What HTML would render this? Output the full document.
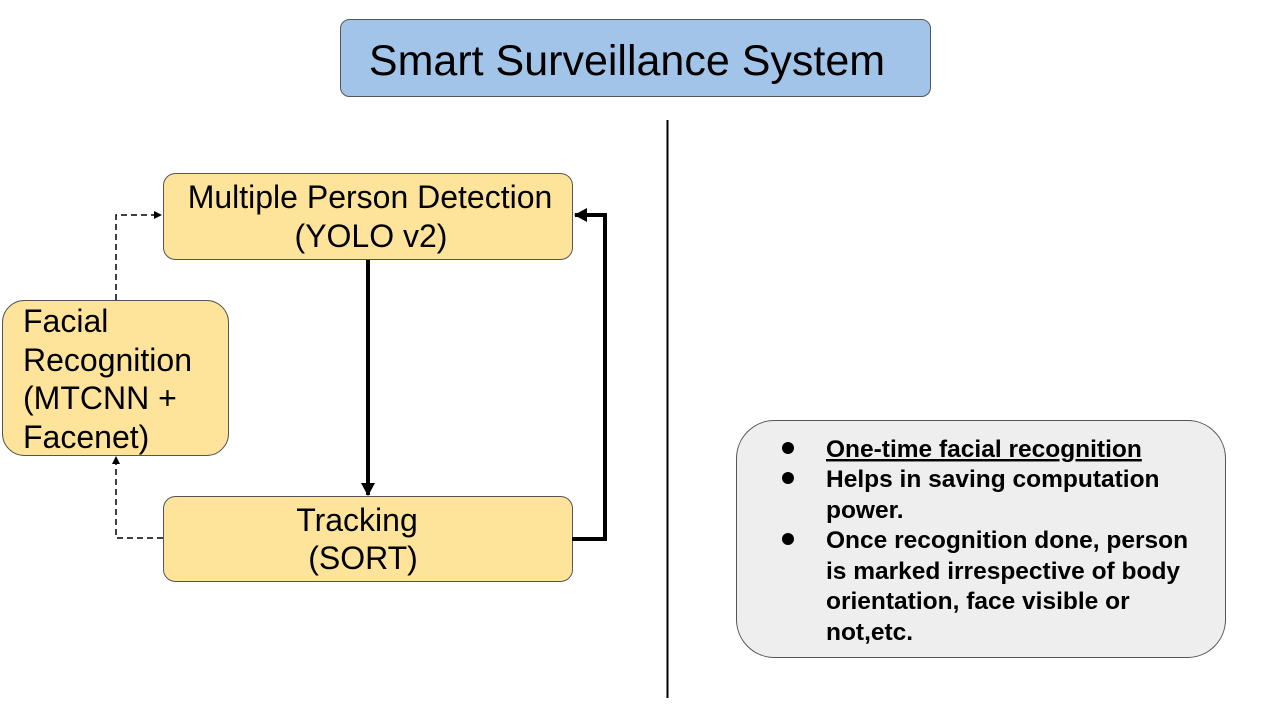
<!DOCTYPE html>
<html><head><style>
body{margin:0;width:1270px;height:714px;background:#fff;overflow:hidden;font-family:"Liberation Sans",sans-serif}
</style></head><body>
<svg width="1270" height="714" xmlns="http://www.w3.org/2000/svg" font-family="Liberation Sans, sans-serif">
<defs>
<marker id="a" markerWidth="8" markerHeight="8" refX="7" refY="4" orient="auto" markerUnits="userSpaceOnUse"><path d="M0,0 L8,4 L0,8z" fill="#000"/></marker>
<marker id="b" markerWidth="14" markerHeight="14" refX="12" refY="7" orient="auto" markerUnits="userSpaceOnUse"><path d="M0,0 L13,7 L0,14z" fill="#000"/></marker>
</defs>
<rect x="340.5" y="19.5" width="590" height="77" rx="9" fill="#a2c4e8" stroke="#555"/>
<text x="627" y="75" font-size="43" text-anchor="middle">Smart Surveillance System</text>
<line x1="667.5" y1="120" x2="667.5" y2="698" stroke="#000" stroke-width="2"/>
<rect x="163.5" y="173.5" width="409" height="86" rx="12" fill="#fee49a" stroke="#555"/>
<text x="370" y="208" font-size="32" text-anchor="middle">Multiple Person Detection</text>
<text x="371" y="247" font-size="32" text-anchor="middle">(YOLO v2)</text>
<rect x="2.5" y="300.5" width="226" height="155" rx="22" fill="#fee49a" stroke="#555"/>
<text font-size="32"><tspan x="23" y="332">Facial</tspan><tspan x="23" y="371">Recognition</tspan><tspan x="23" y="409">(MTCNN +</tspan><tspan x="23" y="448">Facenet)</tspan></text>
<rect x="163.5" y="496.5" width="409" height="85" rx="12" fill="#fee49a" stroke="#555"/>
<text x="357" y="531" font-size="32" text-anchor="middle">Tracking</text>
<text x="363" y="569" font-size="32" text-anchor="middle">(SORT)</text>
<line x1="368" y1="260" x2="368" y2="495" stroke="#000" stroke-width="4" marker-end="url(#b)"/>
<polyline points="572,539 605,539 605,215 575,215" fill="none" stroke="#000" stroke-width="4" marker-end="url(#b)"/>
<polyline points="116,300 116,215 161,215" fill="none" stroke="#000" stroke-width="1.5" stroke-dasharray="6,4" marker-end="url(#a)"/>
<polyline points="163,538 116,538 116,457" fill="none" stroke="#000" stroke-width="1.5" stroke-dasharray="6,4" marker-end="url(#a)"/>
<rect x="736.5" y="420.5" width="489" height="237" rx="38" fill="#eeeeee" stroke="#555"/>
<g font-size="24.5" font-weight="bold">
<circle cx="788" cy="448" r="6"/><circle cx="788" cy="478" r="6"/><circle cx="788" cy="539" r="6"/>
<text x="826" y="457" text-decoration="underline">One-time facial recognition</text>
<text x="826" y="487">Helps in saving computation</text>
<text x="826" y="518">power.</text>
<text x="826" y="548">Once recognition done, person</text>
<text x="826" y="579">is marked irrespective of body</text>
<text x="826" y="609">orientation, face visible or</text>
<text x="826" y="640">not,etc.</text>
</g>
</svg>
</body></html>
